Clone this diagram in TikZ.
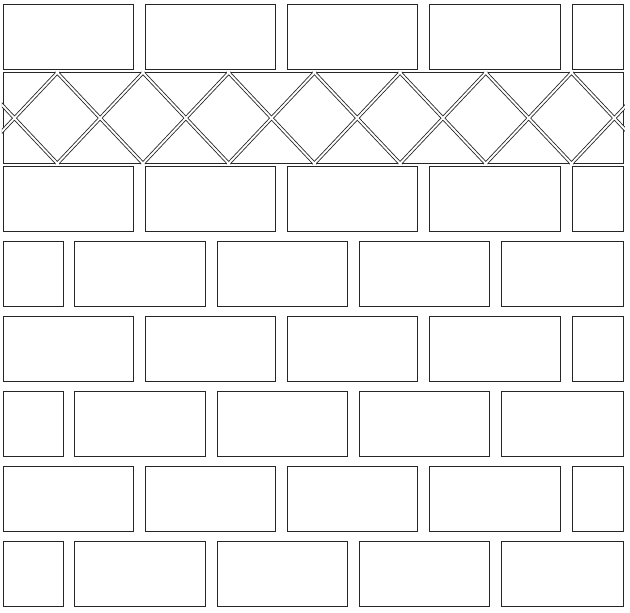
\documentclass[tikz,border=0pt]{standalone}
\begin{document}
\begin{tikzpicture}[x=1pt,y=-1pt,
  tile/.style={draw=black!85, line width=0.9pt, fill=white},
  grout/.style={draw=black!85, line width=0.85pt, double=white, double distance=1.9pt}]
\useasboundingbox[fill=white] (0,0) rectangle (630,613);
% odd rows (full bricks at left)
\foreach \t in {4.3,166.7,316.7,466.7} {
  \foreach \a/\b in {3/133.3,145.3/275.6,287.5/417.8,429.8/560.1,572/623.7}
    \draw[tile] (\a,\t) rectangle (\b,\t+65);
}
% even rows (offset by half a brick)
\foreach \t in {241.7,391.7,541.7} {
  \foreach \a/\b in {3/63,74.7/205,217/347.3,359.2/489.5,501.5/623.7}
    \draw[tile] (\a,\t) rectangle (\b,\t+65);
}
% diamond band
\draw[tile] (3,72.7) rectangle (623.7,163.5);
\begin{scope}
  \clip (1.8,71.9) rectangle (624.9,164.3);
  \draw[grout]
    \foreach \k in {-1,...,7} {
      ({57.3+85.7*\k-1.4},71.2) -- ({57.3+85.7*\k+85.7+1.4},165.0)
      ({57.3+85.7*\k+1.4},71.2) -- ({57.3+85.7*\k-85.7-1.4},165.0)
    };
\end{scope}
\end{tikzpicture}
\end{document}
